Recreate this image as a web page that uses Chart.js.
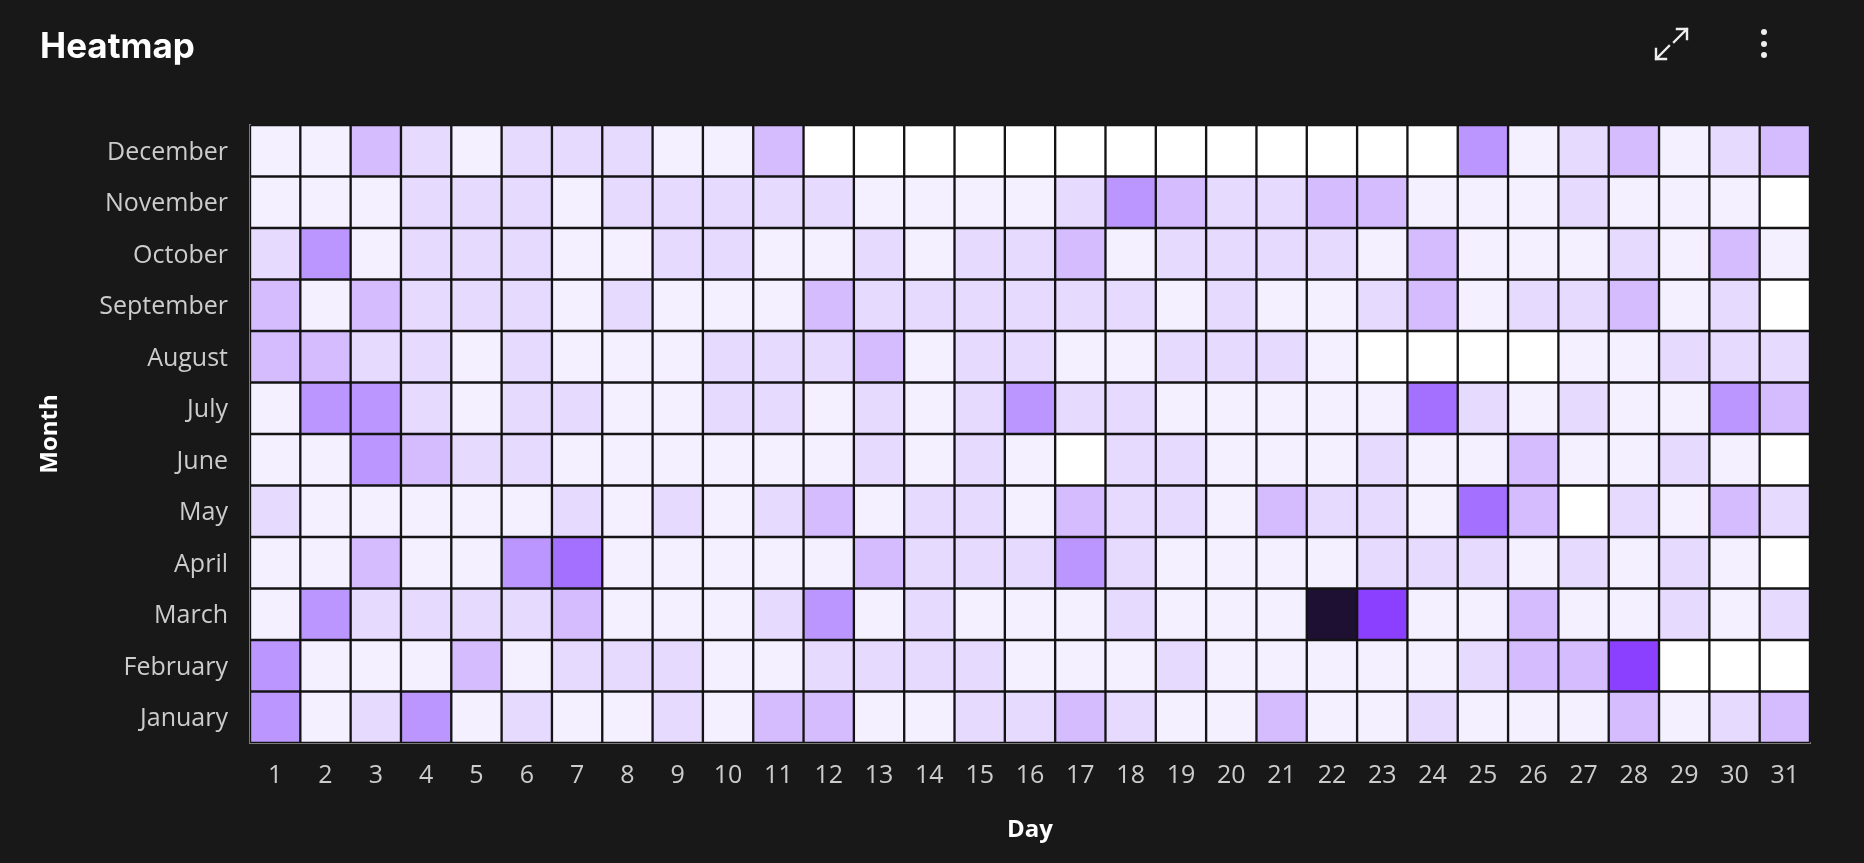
<!DOCTYPE html>
<html>
<head>
<meta charset="utf-8">
<title>Heatmap</title>
<script src="https://cdn.jsdelivr.net/npm/chart.js@4.4.1/dist/chart.umd.min.js"></script>
<style>
  html, body { margin: 0; padding: 0; background: #181818; overflow: hidden; }
  #wrap { position: relative; width: 1864px; height: 863px; }
  #title { position: absolute; left: 40px; top: 28px; color: #ffffff; font: 700 35px Inter, sans-serif; line-height: 1; }
  .icon { position: absolute; }
  canvas { position: absolute; left: 0; top: 0; }
</style>
</head>
<body>
<div id="wrap">
  <canvas id="heatmap" width="1864" height="863"></canvas>
  <div id="title">Heatmap</div>
  <svg class="icon" style="left:1650px;top:23px" width="44" height="44" viewBox="0 0 44 44">
    <g stroke="#eeeeee" stroke-width="2.4" fill="none" stroke-linecap="square">
      <path d="M37 6 L24 19 M37 6 L27 6 M37 6 L37 16"/>
      <path d="M6 36 L19 23 M6 36 L16 36 M6 36 L6 26"/>
    </g>
  </svg>
  <svg class="icon" style="left:1754px;top:23px" width="20" height="40" viewBox="0 0 20 40">
    <g fill="#eeeeee">
      <circle cx="10" cy="9" r="3"/>
      <circle cx="10" cy="21" r="3"/>
      <circle cx="10" cy="32" r="3"/>
    </g>
  </svg>
</div>
<script>
const months = ['January', 'February', 'March', 'April', 'May', 'June',
                'July', 'August', 'September', 'October', 'November', 'December'];
const days = [1, 2, 3, 4, 5, 6, 7, 8, 9, 10, 11, 12, 13, 14, 15, 16,
              17, 18, 19, 20, 21, 22, 23, 24, 25, 26, 27, 28, 29, 30, 31];

// activity level per day, null = no data
const jan = [4,1,2,4,1,2,1,1,2,1,3,3,1,1,2,2,3,2,1,1,3,1,1,2,1,1,1,3,1,2,3];
const feb = [4,1,1,1,3,1,2,2,2,1,1,2,2,2,2,1,1,1,2,1,1,1,1,1,2,3,3,6,null,null,null];
const mar = [1,4,2,2,2,2,3,1,1,1,2,4,1,2,1,1,1,2,1,1,1,7,6,1,1,3,1,1,2,1,2];
const apr = [1,1,3,1,1,4,5,1,1,1,1,1,3,2,2,2,4,2,1,1,1,1,2,2,2,1,2,1,2,1,null];
const may = [2,1,1,1,1,1,2,1,2,1,2,3,1,2,2,1,3,2,2,1,3,2,2,1,5,3,null,2,1,3,2];
const jun = [1,1,4,3,2,2,1,1,1,1,1,1,2,1,2,1,null,2,2,1,1,1,2,1,1,3,1,1,2,1,null];
const jul = [1,4,4,2,1,2,2,1,1,2,2,1,2,1,2,4,2,2,1,1,1,1,1,5,2,1,2,1,1,4,3];
const aug = [3,3,2,2,1,2,1,1,1,2,2,2,3,1,2,2,1,1,2,2,2,1,null,null,null,null,1,1,2,2,2];
const sep = [3,1,3,2,2,2,1,2,1,1,1,3,2,2,2,2,2,2,1,2,1,1,2,3,1,2,2,3,1,2,null];
const oct = [2,4,1,2,2,2,1,1,2,2,1,1,2,1,2,2,3,1,2,2,2,2,1,3,1,1,1,2,1,3,1];
const nov = [1,1,1,2,2,2,1,2,2,2,2,2,1,1,1,1,2,4,3,2,2,3,3,1,1,1,2,1,1,1,null];
const dec = [1,1,3,2,1,2,2,2,1,1,3,null,null,null,null,null,null,null,null,null,null,null,null,null,4,1,2,3,1,2,3];

const rows = [jan, feb, mar, apr, may, jun, jul, aug, sep, oct, nov, dec];

const palette = ['#f4f0ff', '#e7daff', '#d4bcff', '#bc96ff', '#a470ff', '#8c40ff', '#1e1033'];

function cellColor(v) {
    return v == null ? '#ffffff' : palette[v - 1];
}

// one dataset per day, each bar spans one day on the x axis
const datasets = days.map((day, i) => ({
    label: 'Day ' + day,
    data: months.map(() => [day - 0.5, day + 0.5]),
    backgroundColor: rows.map(r => cellColor(r[i])),
    borderColor: '#141414',
    borderWidth: 1.5,
    borderSkipped: false,
    grouped: false,
    barPercentage: 1,
    categoryPercentage: 1
}));

const tickFont = { family: 'Open Sans', size: 25 };
const titleFont = { family: 'Open Sans', size: 24, weight: 'bold' };

new Chart(document.getElementById('heatmap'), {
    type: 'bar',
    data: { labels: months, datasets: datasets },
    options: {
        indexAxis: 'y',
        responsive: false,
        animation: false,
        devicePixelRatio: 1,
        layout: { padding: { top: 125, right: 54, bottom: 0, left: 0 } },
        plugins: {
            legend: { display: false },
            tooltip: {
                callbacks: {
                    title: items => items[0].label,
                    label: item => {
                        const v = rows[item.dataIndex][item.datasetIndex];
                        return 'Day ' + days[item.datasetIndex] + ': ' + (v == null ? 'no data' : v);
                    }
                }
            }
        },
        scales: {
            x: {
                type: 'linear',
                min: 0.5,
                max: 31.5,
                afterBuildTicks: s => { s.ticks = days.map(d => ({ value: d })); },
                afterFit: s => { s.height = 120; },
                grid: { display: false, drawTicks: false },
                border: { display: true, color: '#7a7a7a', width: 2 },
                ticks: { color: '#cccccc', font: tickFont, padding: 18, autoSkip: false, maxRotation: 0 },
                title: { display: true, text: 'Day', color: '#ffffff', font: titleFont, padding: { top: 0, bottom: 18 } }
            },
            y: {
                type: 'category',
                reverse: true,
                afterFit: s => { s.width = 250; },
                grid: { display: false, drawTicks: false },
                border: { display: true, color: '#7a7a7a', width: 2 },
                ticks: { color: '#cccccc', font: tickFont, padding: 22, labelOffset: 2 },
                title: { display: true, text: 'Month', color: '#ffffff', font: titleFont, padding: { top: 36, bottom: 0 } }
            }
        }
    }
});
</script>
</body>
</html>
